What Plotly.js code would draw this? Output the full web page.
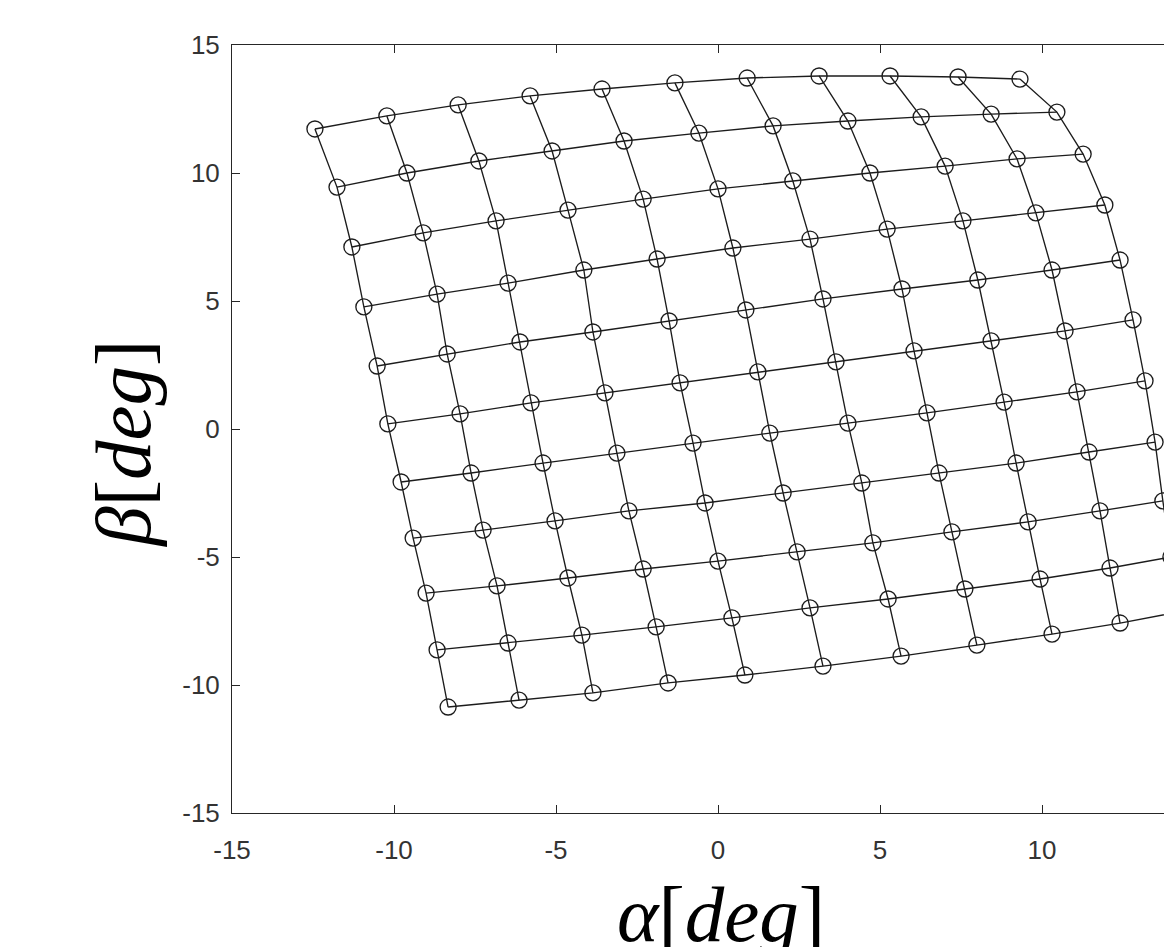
<!DOCTYPE html>
<html>
<head>
<meta charset="utf-8">
<script src="https://cdn.plot.ly/plotly-3.0.1.min.js"></script>
<style>
html, body { margin: 0; padding: 0; overflow: hidden; background: #fff; width: 1164px; height: 947px; }
#chart { width: 1300px; height: 947px; }
</style>
</head>
<body>
<div id="chart"></div>
<script>
// Grid rows (top to bottom): alpha [deg] and beta [deg] for each node
const alphaR0 = [-12.44, -10.22, -8.02, -5.80, -3.58, -1.33, 0.90, 3.12, 5.31, 7.41, 9.32];
const betaR0  = [11.72, 12.23, 12.66, 13.01, 13.28, 13.52, 13.71, 13.79, 13.79, 13.75, 13.67];
const alphaR1 = [-11.76, -9.60, -7.38, -5.12, -2.90, -0.59, 1.70, 4.01, 6.27, 8.43, 10.46];
const betaR1  = [9.45, 10.00, 10.47, 10.86, 11.25, 11.56, 11.84, 12.03, 12.19, 12.30, 12.38];
const alphaR2 = [-11.30, -9.10, -6.85, -4.63, -2.31, 0.00, 2.31, 4.69, 7.01, 9.23, 11.27];
const betaR2  = [7.11, 7.66, 8.13, 8.55, 8.98, 9.38, 9.69, 10.00, 10.27, 10.55, 10.74];
const alphaR3 = [-10.93, -8.67, -6.48, -4.14, -1.88, 0.46, 2.84, 5.22, 7.56, 9.81, 11.94];
const betaR3  = [4.77, 5.27, 5.70, 6.21, 6.64, 7.07, 7.42, 7.81, 8.13, 8.44, 8.75];
const alphaR4 = [-10.52, -8.36, -6.11, -3.86, -1.51, 0.86, 3.24, 5.68, 8.02, 10.31, 12.41];
const betaR4  = [2.46, 2.93, 3.40, 3.79, 4.22, 4.65, 5.08, 5.47, 5.82, 6.21, 6.60];
const alphaR5 = [-10.19, -7.96, -5.77, -3.49, -1.17, 1.23, 3.64, 6.05, 8.43, 10.71, 12.81];
const betaR5  = [0.20, 0.59, 1.02, 1.41, 1.80, 2.23, 2.62, 3.05, 3.44, 3.83, 4.26];
const alphaR6 = [-9.78, -7.62, -5.40, -3.12, -0.77, 1.60, 4.01, 6.45, 8.83, 11.08, 13.18];
const betaR6  = [-2.07, -1.72, -1.33, -0.94, -0.55, -0.16, 0.23, 0.63, 1.05, 1.45, 1.88];
const alphaR7 = [-9.41, -7.25, -5.03, -2.75, -0.40, 2.01, 4.44, 6.82, 9.20, 11.45, 13.49];
const betaR7  = [-4.26, -3.95, -3.59, -3.20, -2.89, -2.50, -2.11, -1.72, -1.33, -0.90, -0.51];
const alphaR8 = [-9.01, -6.82, -4.63, -2.31, 0.00, 2.44, 4.78, 7.22, 9.57, 11.79, 13.73];
const betaR8  = [-6.41, -6.13, -5.82, -5.47, -5.16, -4.80, -4.45, -4.02, -3.63, -3.20, -2.81];
const alphaR9 = [-8.67, -6.48, -4.20, -1.91, 0.43, 2.84, 5.25, 7.62, 9.94, 12.10, 13.98];
const betaR9  = [-8.63, -8.36, -8.05, -7.73, -7.38, -6.99, -6.64, -6.25, -5.86, -5.43, -5.00];
const alphaR10 = [-8.33, -6.14, -3.86, -1.54, 0.83, 3.24, 5.65, 7.99, 10.31, 12.41, 14.20];
const betaR10  = [-10.86, -10.59, -10.31, -9.92, -9.61, -9.26, -8.87, -8.44, -8.01, -7.58, -7.15];

const tickValues = [-15, -10, -5, 0, 5, 10, 15];
const tickLabels = ['-15', '-10', '-5', '0', '5', '10', '15'];

const alphaRows = [alphaR0, alphaR1, alphaR2, alphaR3, alphaR4, alphaR5, alphaR6, alphaR7, alphaR8, alphaR9, alphaR10];
const betaRows  = [betaR0, betaR1, betaR2, betaR3, betaR4, betaR5, betaR6, betaR7, betaR8, betaR9, betaR10];

const lineColor = '#1c1c1c';
const traces = [];
// horizontal grid lines (rows) with open circle markers
alphaRows.forEach((ax, i) => {
  traces.push({
    x: ax, y: betaRows[i], type: 'scatter', mode: 'lines+markers',
    line: {color: lineColor, width: 1.35},
    marker: {symbol: 'circle-open', size: 16, color: lineColor, line: {width: 1.35, color: lineColor}},
    showlegend: false, hoverinfo: 'x+y', cliponaxis: false
  });
});
// vertical grid lines (columns)
const nCols = alphaR0.length;
for (let j = 0; j < nCols; j++) {
  traces.push({
    x: alphaRows.map(r => r[j]), y: betaRows.map(r => r[j]),
    type: 'scatter', mode: 'lines',
    line: {color: lineColor, width: 1.35},
    showlegend: false, hoverinfo: 'skip', cliponaxis: false
  });
}

const axisCommon = {
  tickmode: 'array', tickvals: tickValues, ticktext: tickLabels,
  ticks: 'inside', ticklen: 8, tickwidth: 1, tickcolor: '#262626',
  showline: true, linecolor: '#262626', linewidth: 1, mirror: 'ticks',
  showgrid: false, zeroline: false,
  tickfont: {family: 'Liberation Sans, Arial, sans-serif', size: 26, color: '#333333'},
  fixedrange: true, automargin: false
};

const layout = {
  width: 1300, height: 947,
  margin: {l: 232, r: 96, t: 45, b: 134},
  paper_bgcolor: '#ffffff', plot_bgcolor: '#ffffff',
  xaxis: Object.assign({}, axisCommon, {range: [-15, 15], ticklabelstandoff: 14}),
  yaxis: Object.assign({}, axisCommon, {range: [-15, 15], ticklabelstandoff: 6}),
  annotations: [
    {text: '<i>α</i>[<i>deg</i>]', xref: 'paper', yref: 'paper', x: 0.503, y: -0.132,
     xanchor: 'center', yanchor: 'middle', showarrow: false,
     font: {family: 'Liberation Serif, serif', size: 79, color: '#000'}},
    {text: '<i>β</i>[<i>deg</i>]', xref: 'paper', yref: 'paper', x: -0.112, y: 0.481,
     xanchor: 'center', yanchor: 'middle', textangle: -90, showarrow: false,
     font: {family: 'Liberation Serif, serif', size: 79, color: '#000'}}
  ]
};

Plotly.newPlot('chart', traces, layout, {displayModeBar: false, staticPlot: true});
</script>
</body>
</html>
